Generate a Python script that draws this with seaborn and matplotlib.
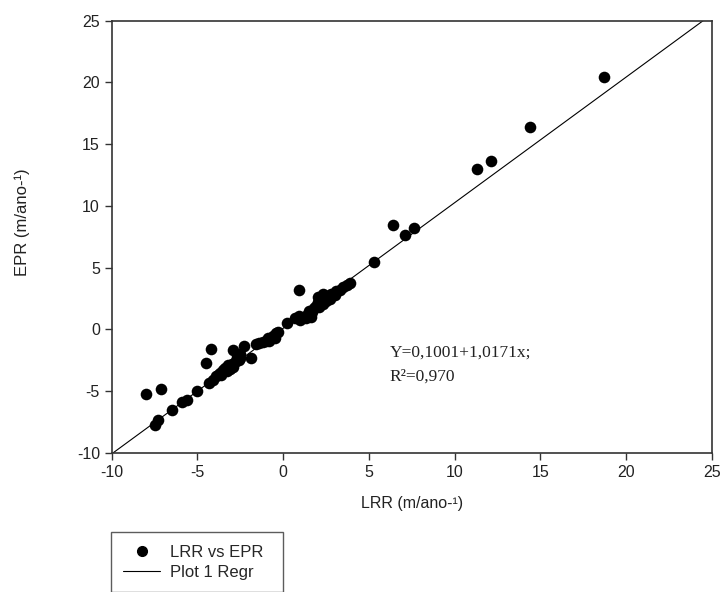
import numpy as np
import pandas as pd
import matplotlib
matplotlib.use("Agg")
import matplotlib.pyplot as plt
from matplotlib.lines import Line2D
import seaborn as sns

# ─── Data ─────────────────────────────────────────────────────────────────────
lrr = [
    # upper dense band
    0.7, 0.9, 1.0, 1.2, 1.3, 1.4, 1.5, 1.6, 1.7, 1.8, 1.9, 2.0, 2.0, 2.1, 2.2,
    2.3, 2.3, 2.4, 2.5, 2.6, 2.7, 2.8, 3.0, 3.1, 3.3, 3.5, 3.7, 3.9,
    # middle band
    -1.6, -1.4, -1.2, -1.0, -0.9, -0.8, -0.6, -0.5, -0.4, -0.3,
    # lower dense band
    -4.3, -4.1, -3.9, -3.8, -3.7, -3.6, -3.5, -3.4, -3.3, -3.2, -3.1, -3.0,
    -2.9, -2.8, -2.6, -2.5,
    # scattered points
    -2.9, -2.3, -1.9, -2.5, -2.7,
    -4.2, -4.5, -5.0, -5.6, -5.9, -6.5, -7.1, -8.0, -7.3, -7.5,
    0.2, 0.9, 5.3, 6.4, 7.6, 7.1, 11.3, 12.1, 14.4, 18.7,
]
epr = [
    0.9, 1.1, 0.8, 1.0, 0.9, 1.2, 1.5, 1.0, 1.4, 1.7, 1.9, 2.2, 2.6, 1.8, 2.4,
    2.1, 2.9, 2.6, 2.3, 2.7, 2.5, 2.9, 2.8, 3.1, 3.2, 3.4, 3.6, 3.8,
    -1.2, -1.1, -1.0, -0.9, -0.7, -0.9, -0.5, -0.7, -0.3, -0.2,
    -4.3, -4.1, -3.8, -3.7, -3.5, -3.7, -3.3, -3.1, -3.4, -2.9, -3.2, -2.8,
    -3.0, -2.6, -2.5, -2.3,
    -1.7, -1.3, -2.3, -2.0, -2.2,
    -1.6, -2.7, -5.0, -5.7, -5.9, -6.5, -4.85, -5.2, -7.3, -7.7,
    0.55, 3.2, 5.45, 8.45, 8.2, 7.65, 13.0, 13.65, 16.4, 20.45,
]
intercept = 0.1001
slope = 1.0171
x_range = [-10, 25]
ticks = [-10, -5, 0, 5, 10, 15, 20, 25]

df = pd.DataFrame({"LRR": lrr, "EPR": epr})
reg = pd.DataFrame({"LRR": x_range,
                    "EPR": [intercept + slope * v for v in x_range]})

# ─── Style ────────────────────────────────────────────────────────────────────
sns.set_style("ticks")
plt.rcParams["font.family"] = ["Liberation Sans", "DejaVu Sans"]
plt.rcParams["axes.unicode_minus"] = False

fig = plt.figure(figsize=(7.24, 5.92), dpi=100)
ax = fig.add_axes([0.1543, 0.2348, 0.8291, 0.7302])

sns.scatterplot(data=df, x="LRR", y="EPR", ax=ax, color="black",
                s=70, edgecolor="black", linewidth=0, zorder=3)
sns.lineplot(data=reg, x="LRR", y="EPR", ax=ax, color="black", lw=0.8,
             zorder=2)

ax.set_xlim(-10, 25)
ax.set_ylim(-10, 25)
ax.set_xticks(ticks)
ax.set_yticks(ticks)
ax.tick_params(direction="out", length=5, width=1, colors="#333333",
               labelsize=11.5, labelcolor="#222222")
for sp in ax.spines.values():
    sp.set_visible(True)
    sp.set_color("#333333")
    sp.set_linewidth(1.2)

ax.set_xlabel("LRR (m/ano-¹)", fontsize=11.5, labelpad=12, color="#222222")
ax.set_ylabel("EPR (m/ano-¹)", fontsize=12, color="#222222")
ax.yaxis.set_label_coords(-0.136, 0.534)

serif = ["Liberation Serif", "DejaVu Serif"]
ax.text(6.2, -1.9, "Y=0,1001+1,0171x;", fontsize=12.5, family=serif,
        va="center", ha="left", color="#222222")
ax.text(6.2, -3.85, "R²=0,970", fontsize=12.5, family=serif,
        va="center", ha="left", color="#222222")

handles = [
    Line2D([], [], marker="o", color="black", linestyle="none", markersize=7),
    Line2D([], [], color="black", lw=0.8),
]
leg = fig.legend(handles, ["LRR vs EPR", "Plot 1 Regr"], loc="upper left",
                 bbox_to_anchor=(0.153, -0.2, 0.2376, 0.301), mode="expand",
                 frameon=True, fancybox=False, fontsize=12,
                 handlelength=2.2, handletextpad=0.6, borderpad=0.75,
                 labelspacing=0.3, borderaxespad=0)
leg.get_frame().set_edgecolor("#333333")
leg.get_frame().set_linewidth(1.0)

fig.savefig("out.png", dpi=100)
